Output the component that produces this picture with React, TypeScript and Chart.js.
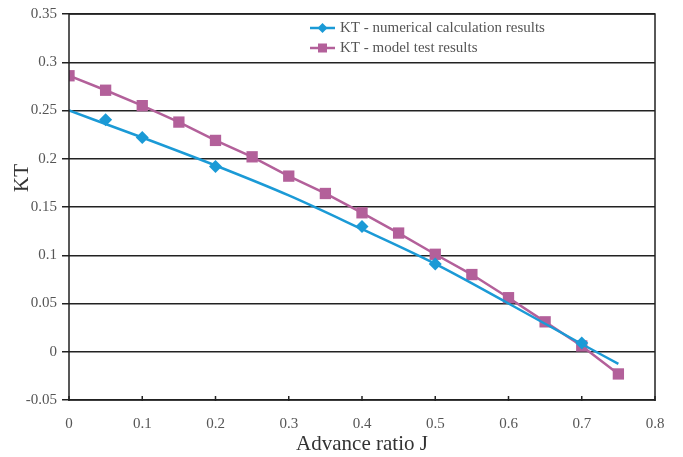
import React, { useEffect, useRef } from "react";
import { Chart, registerables } from "chart.js";

Chart.register(...registerables);

// numerical calculation: markers
const numJ = [0.05, 0.1, 0.2, 0.4, 0.5, 0.7];
const numKT = [0.2405, 0.222, 0.192, 0.1298, 0.091, 0.009];
// numerical calculation: fitted curve
const curveJ = [0, 0.1, 0.2, 0.3, 0.4, 0.5, 0.6, 0.7, 0.75];
const curveKT = [0.25, 0.222, 0.193, 0.162, 0.127, 0.091, 0.05, 0.008, -0.0125];

const testJ = [0, 0.05, 0.1, 0.15, 0.2, 0.25, 0.3, 0.35, 0.4, 0.45, 0.5, 0.55, 0.6, 0.65, 0.7, 0.75];
const testKT = [0.286, 0.271, 0.255, 0.238, 0.219, 0.202, 0.182, 0.164, 0.144, 0.123, 0.101, 0.08, 0.056, 0.031, 0.006, -0.023];

const seriesNames = ["KT - numerical calculation results", "KT - model test results"];
const xTitle = "Advance ratio J";
const yTitle = "KT";

const BLUE = "#1b9ad6";
const PINK = "#b3609a";
const FONT = "'Liberation Serif', 'Times New Roman', serif";

const fmt = (v: number) => {
  const r = Math.round(v * 100) / 100;
  return Math.abs(r) < 1e-9 ? "0" : String(r);
};

export default function App() {
  const ref = useRef<HTMLCanvasElement>(null);
  useEffect(() => {
    document.body.style.margin = "0";
    const ctx = ref.current!.getContext("2d")!;
    const framePlugin = {
      id: "frame",
      afterDraw(chart: any) {
        const { ctx, chartArea: a, scales } = chart;
        ctx.save();
        ctx.strokeStyle = "#222";
        ctx.lineWidth = 1.5;
        ctx.strokeRect(a.left, a.top, a.right - a.left, a.bottom - a.top);
        const xs = scales.x;
        xs.ticks.forEach((t: any) => {
          const px = xs.getPixelForValue(t.value);
          ctx.beginPath();
          ctx.moveTo(px, a.bottom + 1);
          ctx.lineTo(px, a.bottom - 4);
          ctx.stroke();
        });
        // y title
        ctx.save();
        ctx.translate(22, 178);
        ctx.rotate(-Math.PI / 2);
        ctx.fillStyle = "#333";
        ctx.font = `21px ${FONT}`;
        ctx.textAlign = "center";
        ctx.textBaseline = "middle";
        ctx.fillText(yTitle, 0, 0);
        ctx.restore();
        // legend
        const lx = 300, ly = 16, lw = 340, lh = 44;
        ctx.fillStyle = "#ffffff";
        ctx.fillRect(lx, ly, lw, lh);
        const cols = [BLUE, PINK];
        seriesNames.forEach((name, i) => {
          const y = ly + 12 + i * 20;
          ctx.strokeStyle = cols[i];
          ctx.lineWidth = 2.5;
          ctx.beginPath();
          ctx.moveTo(310, y);
          ctx.lineTo(335, y);
          ctx.stroke();
          ctx.fillStyle = cols[i];
          if (i === 0) {
            ctx.beginPath();
            ctx.moveTo(322.5, y - 5);
            ctx.lineTo(327.5, y);
            ctx.lineTo(322.5, y + 5);
            ctx.lineTo(317.5, y);
            ctx.closePath();
            ctx.fill();
          } else {
            ctx.fillRect(318, y - 4.5, 9, 9);
          }
          ctx.fillStyle = "#555";
          ctx.font = `15px ${FONT}`;
          ctx.textBaseline = "middle";
          ctx.textAlign = "left";
          ctx.fillText(name, 340, y);
        });
        ctx.restore();
      },
    };
    const chart = new Chart(ctx, {
      type: "scatter",
      data: {
        datasets: [
          {
            label: seriesNames[0] + " (curve)",
            data: curveJ.map((x, i) => ({ x, y: curveKT[i] })),
            showLine: true,
            borderColor: BLUE,
            backgroundColor: BLUE,
            borderWidth: 2.5,
            pointRadius: 0,
            cubicInterpolationMode: "monotone",
          },
          {
            label: seriesNames[0],
            data: numJ.map((x, i) => ({ x, y: numKT[i] })),
            showLine: false,
            borderColor: BLUE,
            backgroundColor: BLUE,
            borderWidth: 0,
            pointStyle: "rectRot",
            pointRadius: 6.5,
          },
          {
            label: seriesNames[1],
            data: testJ.map((x, i) => ({ x, y: testKT[i] })),
            showLine: true,
            borderColor: PINK,
            backgroundColor: PINK,
            borderWidth: 2.5,
            pointStyle: "rect",
            pointBorderWidth: 0,
            pointRadius: 8,
          },
        ],
      },
      options: {
        animation: false,
        responsive: false,
        layout: { padding: { top: 8, right: 28, left: 0, bottom: 0 } },
        plugins: { legend: { display: false }, tooltip: { enabled: false } },
        scales: {
          x: {
            type: "linear",
            min: 0,
            max: 0.8,
            ticks: { stepSize: 0.1, color: "#555", font: { family: FONT, size: 15 }, padding: 7, callback: (v: any) => fmt(v) },
            grid: { display: false },
            border: { display: false },
            title: { display: true, text: xTitle, color: "#333", font: { family: FONT, size: 21 }, padding: { top: 0, bottom: 0 } },
            afterFit(s: any) { s.height = 57; },
          },
          y: {
            min: -0.05,
            max: 0.35,
            ticks: { stepSize: 0.05, color: "#555", font: { family: FONT, size: 15 }, padding: 5, callback: (v: any) => fmt(v) },
            grid: { color: "#222", lineWidth: 1.5, tickLength: 7, tickColor: "#222" },
            border: { display: false },
            afterFit(s: any) { s.width = 69; },
          },
        },
      },
      plugins: [framePlugin],
    } as any);
    return () => chart.destroy();
  }, []);
  return <canvas ref={ref} width={683} height={457} style={{ display: "block" }} />;
}
